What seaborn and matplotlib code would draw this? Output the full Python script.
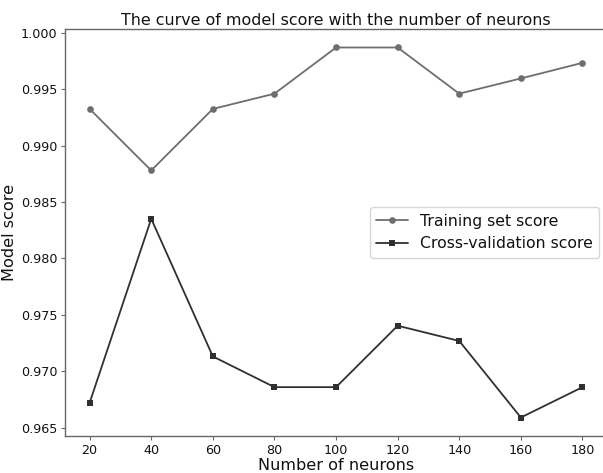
import matplotlib
matplotlib.use("Agg")
import matplotlib.pyplot as plt
import seaborn as sns

neurons = [20, 40, 60, 80, 100, 120, 140, 160, 180]
train_score = [0.99324, 0.98779, 0.99324, 0.99459, 0.99868, 0.99868, 0.99459, 0.99594, 0.99732]
cv_score = [0.96722, 0.98351, 0.97132, 0.96860, 0.96860, 0.97404, 0.97269, 0.96591, 0.96860]

sns.set_style("ticks")
plt.rcParams["font.family"] = ["DejaVu Sans"]
plt.rcParams["text.color"] = "#111111"
plt.rcParams["axes.labelcolor"] = "#111111"

fig = plt.figure(figsize=(6.03, 4.73), dpi=100)
# axes runs slightly past the right edge, like the source image
ax = fig.add_axes([0.1078, 0.0782, 0.899, 0.8605])

sns.lineplot(x=neurons, y=train_score, ax=ax, color="#6e6e6e", marker="o",
             markersize=4.8, linewidth=1.3, markeredgewidth=0,
             label="Training set score")
sns.lineplot(x=neurons, y=cv_score, ax=ax, color="#303030", marker="s",
             markersize=4.4, linewidth=1.3, markeredgewidth=0,
             label="Cross-validation score")

ax.set_xticks(neurons)
yt = [0.965, 0.970, 0.975, 0.980, 0.985, 0.990, 0.995, 1.000]
ax.set_yticks(yt)
ax.set_yticklabels([f"{v:.3f}" for v in yt])
ax.tick_params(labelsize=9.2, colors="#111111", length=3, pad=2.5)
ax.tick_params(color="#666666")
ax.set_xlabel("Number of neurons", fontsize=11.6, labelpad=1)
ax.set_ylabel("Model score", fontsize=11.6, labelpad=3)
ax.set_title("The curve of model score with the number of neurons", fontsize=11.4, pad=3)
for s in ax.spines.values():
    s.set_color("#666666")
    s.set_linewidth(1.0)

ax.legend(loc="center right", fontsize=11.3, frameon=True, handlelength=2)

fig.savefig("out.png", dpi=100)
